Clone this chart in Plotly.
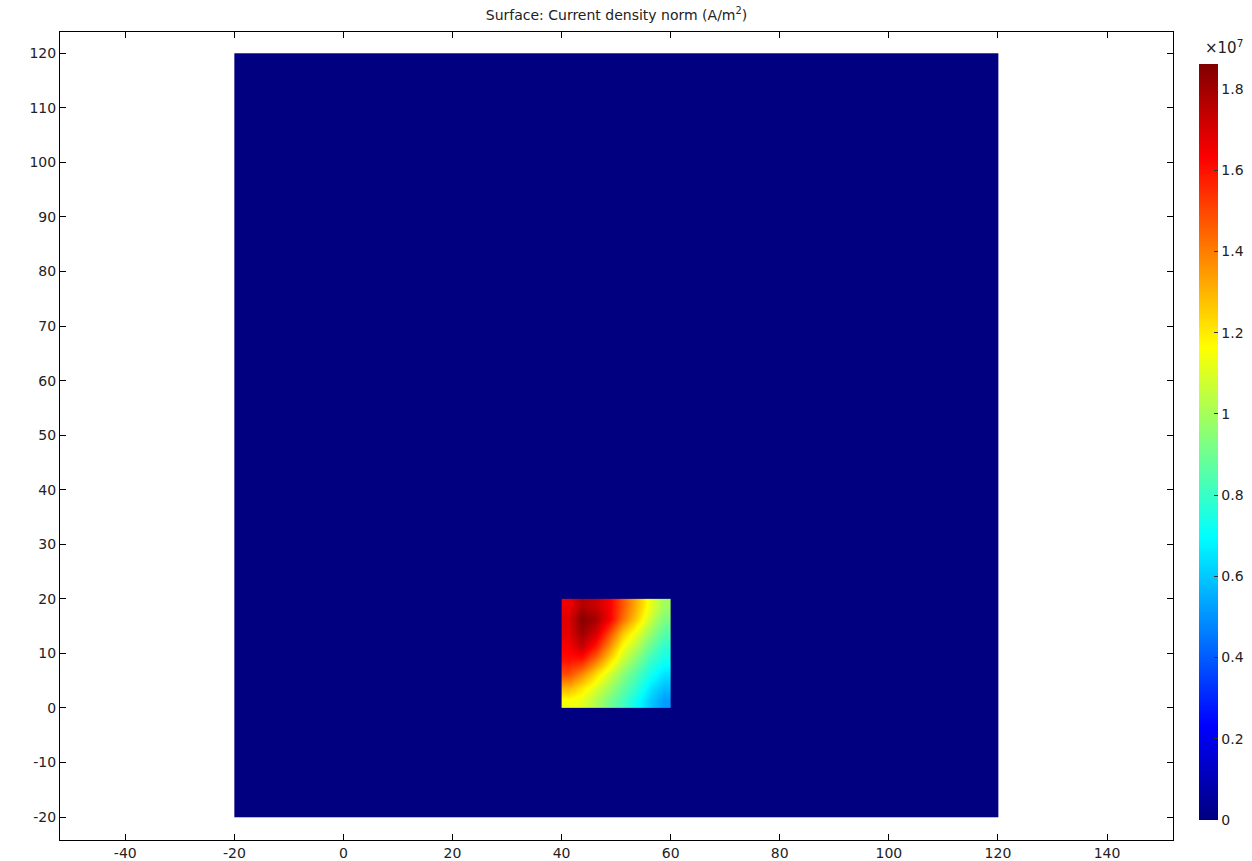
import plotly.graph_objects as go

# Domain: square [-20, 120] x [-20, 120] (mm), field negligible outside the conductor
domain_x_edges = [-20, 120]
domain_y_edges = [-20, 120]
domain_j = [[0.0]]

# Conductor block [40, 60] x [0, 20]: current density norm at cell centres (1e7 A/m^2)
block_x = [41.25, 43.75, 46.25, 48.75, 51.25, 53.75, 56.25, 58.75]
block_y = [1.25, 3.75, 6.25, 8.75, 11.25, 13.75, 16.25, 18.75]
block_j = [
    [1.15, 1.12, 1.02, 0.91, 0.82, 0.71, 0.60, 0.52],
    [1.30, 1.21, 1.10, 0.99, 0.88, 0.78, 0.65, 0.58],
    [1.49, 1.38, 1.23, 1.08, 0.95, 0.84, 0.73, 0.65],
    [1.60, 1.58, 1.42, 1.23, 1.06, 0.93, 0.80, 0.73],
    [1.64, 1.73, 1.58, 1.36, 1.15, 1.02, 0.88, 0.78],
    [1.68, 1.81, 1.71, 1.49, 1.27, 1.12, 0.97, 0.86],
    [1.69, 1.85, 1.79, 1.64, 1.43, 1.25, 1.06, 0.93],
    [1.66, 1.77, 1.73, 1.64, 1.47, 1.30, 1.12, 0.99],
]

j_max = 1.862
cbar_ticks = [0, 0.2, 0.4, 0.6, 0.8, 1.0, 1.2, 1.4, 1.6, 1.8]
cbar_labels = ["0", "0.2", "0.4", "0.6", "0.8", "1", "1.2", "1.4", "1.6", "1.8"]
x_ticks = [-40, -20, 0, 20, 40, 60, 80, 100, 120, 140]
y_ticks = [-20, -10, 0, 10, 20, 30, 40, 50, 60, 70, 80, 90, 100, 110, 120]

jet = [
    [0.0, "rgb(0,0,128)"],
    [0.125, "rgb(0,0,255)"],
    [0.375, "rgb(0,255,255)"],
    [0.625, "rgb(255,255,0)"],
    [0.875, "rgb(255,0,0)"],
    [1.0, "rgb(128,0,0)"],
]

FONT = "DejaVu Sans"
TXT = "#222222"

fig = go.Figure()
fig.add_trace(go.Heatmap(x=domain_x_edges, y=domain_y_edges, z=domain_j,
                         coloraxis="coloraxis", hoverinfo="skip"))
fig.add_trace(go.Heatmap(x=block_x, y=block_y, z=block_j, zsmooth="best",
                         coloraxis="coloraxis"))

axis_common = dict(
    showgrid=False, zeroline=False, showline=True, linecolor="black", linewidth=1,
    mirror="ticks", ticks="inside", ticklen=6, tickcolor="black",
    tickfont=dict(family=FONT, size=14, color=TXT),
)

fig.update_layout(
    width=1252, height=861,
    margin=dict(l=60, r=79, t=32, b=21, autoexpand=False),
    paper_bgcolor="white", plot_bgcolor="white",
    title=dict(text="Surface: Current density norm (A/m<sup>2</sup>)",
               x=0.5, xref="paper", xanchor="center",
               y=1 - 15 / 861, yref="container", yanchor="middle",
               font=dict(family=FONT, size=14, color=TXT)),
    xaxis=dict(range=[-51.97, 152.1], tickvals=x_ticks,
               ticktext=[str(v) for v in x_ticks], **axis_common),
    yaxis=dict(range=[-24.2, 123.9], tickvals=y_ticks,
               ticktext=[str(v) for v in y_ticks], **axis_common),
    coloraxis=dict(
        colorscale=jet, cmin=0, cmax=j_max,
        colorbar=dict(
            thickness=19, thicknessmode="pixels",
            len=756, lenmode="pixels",
            x=(1199 - 60) / 1113, xanchor="left", xpad=0,
            y=(840 - 64) / 808, yanchor="top", ypad=0,
            outlinewidth=0, ticks="inside", ticklen=4, tickcolor="#333333",
            tickvals=cbar_ticks, ticktext=cbar_labels,
            tickfont=dict(family=FONT, size=14, color=TXT),
        ),
    ),
    annotations=[dict(text="×10<sup>7</sup>", x=(1203 - 60) / 1113, xref="paper",
                      y=(840 - 47) / 808, yref="paper", xanchor="left",
                      yanchor="middle", showarrow=False,
                      font=dict(family=FONT, size=15, color=TXT))],
)

fig.write_html("out.html")
